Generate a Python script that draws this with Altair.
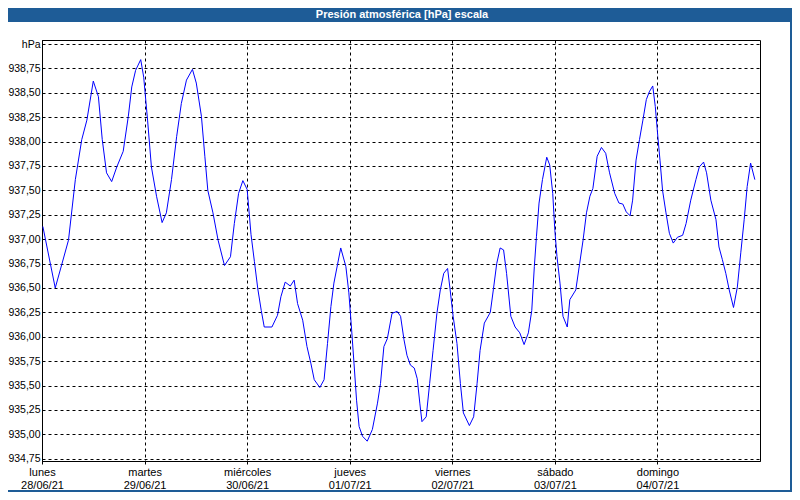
import altair as alt
import pandas as pd

TITLE = "Presión atmosférica [hPa] escala"
DAY_NAMES = ["lunes", "martes", "miércoles", "jueves", "viernes", "sábado", "domingo"]
DAY_DATES = ["28/06/21", "29/06/21", "30/06/21", "01/07/21", "02/07/21", "03/07/21", "04/07/21"]
Y_TICKS = [934.75, 935.0, 935.25, 935.5, 935.75, 936.0, 936.25, 936.5, 936.75,
           937.0, 937.25, 937.5, 937.75, 938.0, 938.25, 938.5, 938.75, 939.0]

# hours since 28/06/21 00:00
hours = [0.2, 3.1, 6.2, 7.8, 9.3, 10.5, 12.0, 13.2, 14.1, 15.1, 16.3, 17.5, 19.0, 20.2,
         21.0, 21.9, 23.1, 23.8, 24.7, 25.6, 26.8, 28.1, 29.1, 30.3, 31.5, 32.6, 33.8,
         35.2, 36.1, 37.3, 38.1, 38.8, 40.0, 41.2, 42.7, 44.1, 45.0, 46.0, 47.0, 48.0,
         48.9, 49.7, 50.5, 51.3, 52.0, 53.8, 55.1, 55.9, 56.9, 58.1, 59.0, 59.8, 61.0,
         62.0, 62.9, 63.7, 65.0, 66.0, 66.8, 67.6, 68.3, 69.9, 71.1, 71.8, 72.4, 73.0,
         73.6, 74.2, 75.0, 76.1, 77.3, 78.5, 79.2, 80.0, 80.8, 81.9, 83.1, 83.9, 84.7,
         85.4, 86.2, 87.1, 87.8, 88.4, 88.9, 89.9, 90.7, 91.5, 92.4, 93.2, 94.0, 94.9,
         95.5, 96.2, 97.1, 97.9, 98.6, 100.0, 101.0, 101.8, 102.5, 103.5, 104.9, 105.6,
         106.4, 107.2, 108.0, 108.7, 109.7, 110.7, 111.8, 112.8, 113.8, 114.6, 115.2,
         115.7, 116.3, 117.1, 118.1, 118.8, 119.5, 120.0, 120.5, 121.2, 121.9, 122.9,
         123.5, 124.9, 125.8, 126.6, 127.4, 128.2, 128.9, 129.9, 130.9, 131.9, 132.8,
         134.0, 135.0, 135.9, 136.7, 137.6, 138.2, 139.0, 139.8, 140.6, 141.4, 142.1,
         142.9, 143.5, 144.1, 144.6, 145.2, 146.0, 146.8, 147.7, 148.7, 149.9, 150.7,
         151.8, 153.0, 153.8, 154.8, 155.5, 156.5, 157.7, 158.4, 159.2, 160.0, 160.8,
         161.8, 162.7, 163.5, 164.3, 165.0, 165.8, 166.8]

pressure = [937.13, 936.50, 936.99, 937.61, 938.02, 938.22, 938.62, 938.46, 938.02, 937.68,
            937.59, 937.74, 937.90, 938.26, 938.56, 938.73, 938.84, 938.66, 938.22, 937.74,
            937.44, 937.17, 937.27, 937.61, 938.05, 938.39, 938.63, 938.74, 938.60, 938.26,
            937.85, 937.50, 937.27, 936.99, 936.73, 936.82, 937.16, 937.47, 937.60, 937.51,
            937.05, 936.77, 936.49, 936.27, 936.10, 936.10, 936.22, 936.41, 936.56, 936.52,
            936.58, 936.34, 936.17, 935.90, 935.73, 935.56, 935.48, 935.56, 935.93, 936.31,
            936.55, 936.91, 936.72, 936.45, 936.10, 935.73, 935.35, 935.08, 934.98, 934.93,
            935.05, 935.32, 935.52, 935.90, 935.98, 936.24, 936.26, 936.21, 935.97, 935.81,
            935.71, 935.68, 935.57, 935.32, 935.13, 935.18, 935.52, 935.86, 936.24, 936.48,
            936.65, 936.70, 936.48, 936.21, 935.93, 935.52, 935.22, 935.09, 935.18, 935.52,
            935.86, 936.14, 936.25, 936.48, 936.75, 936.91, 936.89, 936.65, 936.21, 936.10,
            936.04, 935.92, 936.04, 936.27, 936.72, 937.03, 937.37, 937.61, 937.84, 937.76,
            937.47, 937.09, 936.82, 936.55, 936.21, 936.10, 936.38, 936.48, 936.75, 936.99,
            937.27, 937.44, 937.52, 937.85, 937.94, 937.88, 937.68, 937.47, 937.37, 937.36,
            937.28, 937.24, 937.40, 937.81, 938.02, 938.22, 938.43, 938.51, 938.57, 938.36,
            938.05, 937.81, 937.50, 937.27, 937.06, 936.96, 937.02, 937.04, 937.16, 937.40,
            937.61, 937.74, 937.79, 937.68, 937.40, 937.20, 936.92, 936.79, 936.65, 936.48,
            936.30, 936.51, 936.86, 937.20, 937.54, 937.78, 937.61]

assert len(hours) == len(pressure)

df = pd.DataFrame({"h": hours, "p": pressure})

FONT = "Liberation Sans"
FRAME_BLUE = "#1e5c97"

TOTAL_W, TOTAL_H = 784, 484
PAD_L, PAD_T = 34, 32
PLOT_W = 718
PLOT_H = 421

day_labels = "[" + ",".join(f"['{n}','{d}']" for n, d in zip(DAY_NAMES, DAY_DATES)) + "]"
x_label_expr = f"{day_labels}[round(datum.value / 24)]"
y_label_expr = "datum.value >= 938.99 ? 'hPa' : replace(format(datum.value, '.2f'), '.', ',')"

line = alt.Chart(df).mark_line(color="#0000ff", strokeWidth=1, clip=True).encode(
    x=alt.X(
        "h:Q",
        scale=alt.Scale(domain=[0, 168], nice=False, zero=False),
        axis=alt.Axis(
            values=[0, 24, 48, 72, 96, 120, 144],
            labelExpr=x_label_expr,
            title=None,
            grid=True,
            gridColor="black",
            gridDash=[3, 3],
            gridOpacity=1,
            tickSize=3,
            tickColor="black",
            tickDash=[3, 3],
            domainColor="black",
            labelFont=FONT,
            labelFontSize=11,
            labelColor="black",
            labelPadding=2,
            labelLineHeight=13,
            labelBaseline="top",
            labelAlign="center",
            labelFlush=False,
            labelOverlap=False,
        ),
    ),
    y=alt.Y(
        "p:Q",
        scale=alt.Scale(domain=[934.727, 939.041], nice=False, zero=False),
        axis=alt.Axis(
            values=Y_TICKS,
            labelExpr=y_label_expr,
            title=None,
            grid=True,
            gridColor="black",
            gridDash=[3, 3],
            gridOpacity=1,
            ticks=False,
            domainColor="black",
            labelFont=FONT,
            labelFontSize=10.5,
            labelColor="black",
            labelPadding=2,
            labelFlush=False,
            labelOverlap=False,
        ),
    ),
)

deco_df = pd.DataFrame({"t": [TITLE]})
ox, oy = -PAD_L, -PAD_T  # chart origin relative to plot area

title_bar = alt.Chart(deco_df).mark_rect(color=FRAME_BLUE).encode(
    x=alt.value(ox), x2=alt.value(ox + TOTAL_W),
    y=alt.value(oy), y2=alt.value(oy + 14),
)
right_border = alt.Chart(deco_df).mark_rect(color=FRAME_BLUE).encode(
    x=alt.value(ox + TOTAL_W - 2), x2=alt.value(ox + TOTAL_W),
    y=alt.value(oy), y2=alt.value(oy + TOTAL_H),
)
bottom_border = alt.Chart(deco_df).mark_rect(color=FRAME_BLUE).encode(
    x=alt.value(ox), x2=alt.value(ox + TOTAL_W),
    y=alt.value(oy + TOTAL_H - 2), y2=alt.value(oy + TOTAL_H),
)
title_text = alt.Chart(deco_df).mark_text(
    font=FONT, fontSize=11, fontWeight="bold", color="white",
    align="center", baseline="middle",
).encode(
    text="t:N",
    x=alt.value(ox + 394),
    y=alt.value(oy + 7),
)

chart = alt.layer(title_bar, right_border, bottom_border, title_text, line).properties(
    width=PLOT_W,
    height=PLOT_H,
    autosize=alt.AutoSizeParams(type="none"),
    padding={"left": PAD_L, "top": PAD_T, "right": TOTAL_W - PAD_L - PLOT_W,
             "bottom": TOTAL_H - PAD_T - PLOT_H},
    background="white",
).configure_view(stroke="black", strokeWidth=1)

chart.save("out.html", embed_options={"renderer": "svg", "actions": False})
